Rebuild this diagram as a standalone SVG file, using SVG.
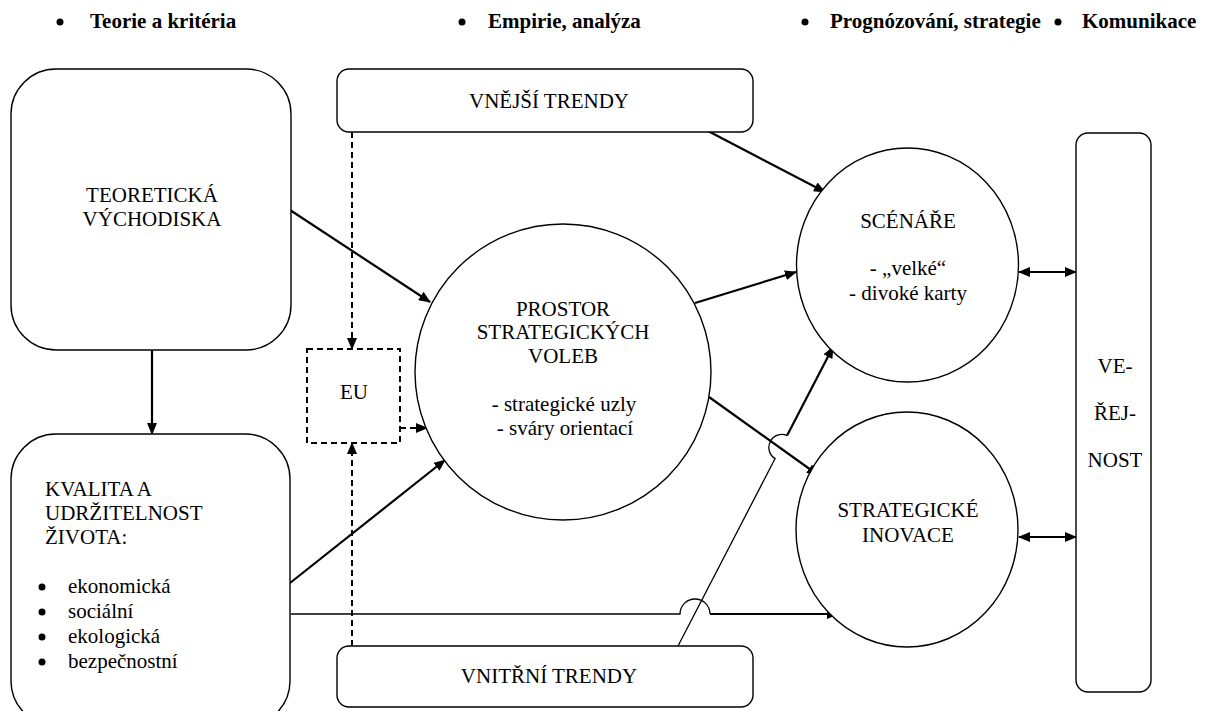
<svg xmlns="http://www.w3.org/2000/svg" width="1211" height="711" viewBox="0 0 1211 711">
<defs>
<style>
text{font-family:"Liberation Serif","Times New Roman",serif;font-size:21px;fill:#000}
.hd{font-weight:bold;font-size:21px}
.c{text-anchor:middle}
.box{fill:#fff;stroke:#000;stroke-width:1.4}
.dbox{fill:#fff;stroke:#000;stroke-width:2;stroke-dasharray:6 4}
.a{fill:none;stroke:#000;stroke-width:2.2;marker-end:url(#ah)}
.t{fill:none;stroke:#000;stroke-width:1.3}
.d{fill:none;stroke:#000;stroke-width:2;stroke-dasharray:6 4;marker-end:url(#ah)}
.b{fill:none;stroke:#000;stroke-width:2.2;marker-start:url(#ah);marker-end:url(#ah)}
</style>
<marker id="ah" viewBox="0 0 12 10" refX="11" refY="5" markerWidth="12" markerHeight="10" markerUnits="userSpaceOnUse" orient="auto-start-reverse"><path d="M0,0 L12,5 L0,10 z" fill="#000"/></marker>
</defs>
<rect width="1211" height="711" fill="#fff"/>
<g id="header">
<circle cx="60" cy="22" r="3.5"/><text class="hd" x="90" y="28">Teorie a kritéria</text>
<circle cx="462" cy="22" r="3.5"/><text class="hd" x="488" y="28">Empirie, analýza</text>
<circle cx="805" cy="22" r="3.5"/><text class="hd" x="830" y="28">Prognózování, strategie</text>
<circle cx="1058" cy="22" r="3.5"/><text class="hd" x="1082" y="28">Komunikace</text>
</g>
<g id="connectors">
<line class="a" x1="152" y1="350" x2="152" y2="434"/>
<line class="a" x1="290" y1="210" x2="430" y2="302"/>
<line class="a" x1="290" y1="583" x2="445" y2="460"/>
<line class="d" x1="352" y1="132" x2="352" y2="349"/>
<line class="d" x1="352" y1="646" x2="352" y2="443"/>
<line class="d" x1="400" y1="428" x2="427" y2="428"/>
<line class="a" x1="695" y1="303" x2="796" y2="272"/>
<line class="a" x1="708" y1="131" x2="825" y2="192"/>
<line class="a" x1="709" y1="397" x2="818" y2="475"/>
<path class="t" d="M291,614 L680,614 A15,15 0 0 1 710,614"/>
<line class="a" x1="710" y1="614" x2="838" y2="614"/>
<path class="t" d="M678,646 L775.1,458.6 A13,13 0 0 1 787.1,435.6"/>
<line class="a" x1="787.1" y1="435.6" x2="833" y2="347"/>
<line class="b" x1="1019" y1="272" x2="1076" y2="272"/>
<line class="b" x1="1019" y1="537" x2="1076" y2="537"/>
</g>
<g id="teoreticka">
<rect class="box" x="11" y="69" width="280" height="281" rx="45"/>
<text class="c" x="152" y="202">TEORETICKÁ</text>
<text class="c" x="152" y="226">VÝCHODISKA</text>
</g>
<g id="kvalita">
<rect class="box" x="11" y="434" width="279" height="292" rx="45"/>
<text x="45" y="496">KVALITA A</text>
<text x="45" y="520">UDRŽITELNOST</text>
<text x="45" y="544">ŽIVOTA:</text>
<circle cx="42" cy="587" r="3.5"/><text x="68" y="593">ekonomická</text>
<circle cx="42" cy="612" r="3.5"/><text x="68" y="618">sociální</text>
<circle cx="42" cy="637" r="3.5"/><text x="68" y="643">ekologická</text>
<circle cx="42" cy="662" r="3.5"/><text x="68" y="668">bezpečnostní</text>
</g>
<g id="vnejsi">
<rect class="box" x="337" y="69" width="416" height="63" rx="12"/>
<text class="c" x="549" y="108">VNĚJŠÍ TRENDY</text>
</g>
<g id="vnitrni">
<rect class="box" x="337" y="646" width="416" height="61" rx="12"/>
<text class="c" x="549" y="683">VNITŘNÍ TRENDY</text>
</g>
<g id="eu">
<rect class="dbox" x="307" y="349" width="93" height="94"/>
<text class="c" x="354" y="399">EU</text>
</g>
<g id="prostor">
<circle class="box" cx="563" cy="372" r="148"/>
<text class="c" x="563" y="316">PROSTOR</text>
<text class="c" x="563" y="339">STRATEGICKÝCH</text>
<text class="c" x="563" y="363">VOLEB</text>
<text class="c" x="564" y="411">- strategické uzly</text>
<text class="c" x="565" y="435">- sváry orientací</text>
</g>
<g id="scenare">
<ellipse class="box" cx="907.5" cy="265" rx="111" ry="117"/>
<text class="c" x="908" y="228">SCÉNÁŘE</text>
<text class="c" x="908" y="275">- „velké“</text>
<text class="c" x="908" y="300">- divoké karty</text>
</g>
<g id="inovace">
<ellipse class="box" cx="907" cy="529.5" rx="111" ry="117.5"/>
<text class="c" x="908" y="517">STRATEGICKÉ</text>
<text class="c" x="908" y="542">INOVACE</text>
</g>
<g id="verejnost">
<rect class="box" x="1076" y="133" width="75" height="559" rx="12"/>
<text class="c" x="1115" y="373">VE-</text>
<text class="c" x="1115" y="420">ŘEJ-</text>
<text class="c" x="1115" y="467">NOST</text>
</g>
</svg>
